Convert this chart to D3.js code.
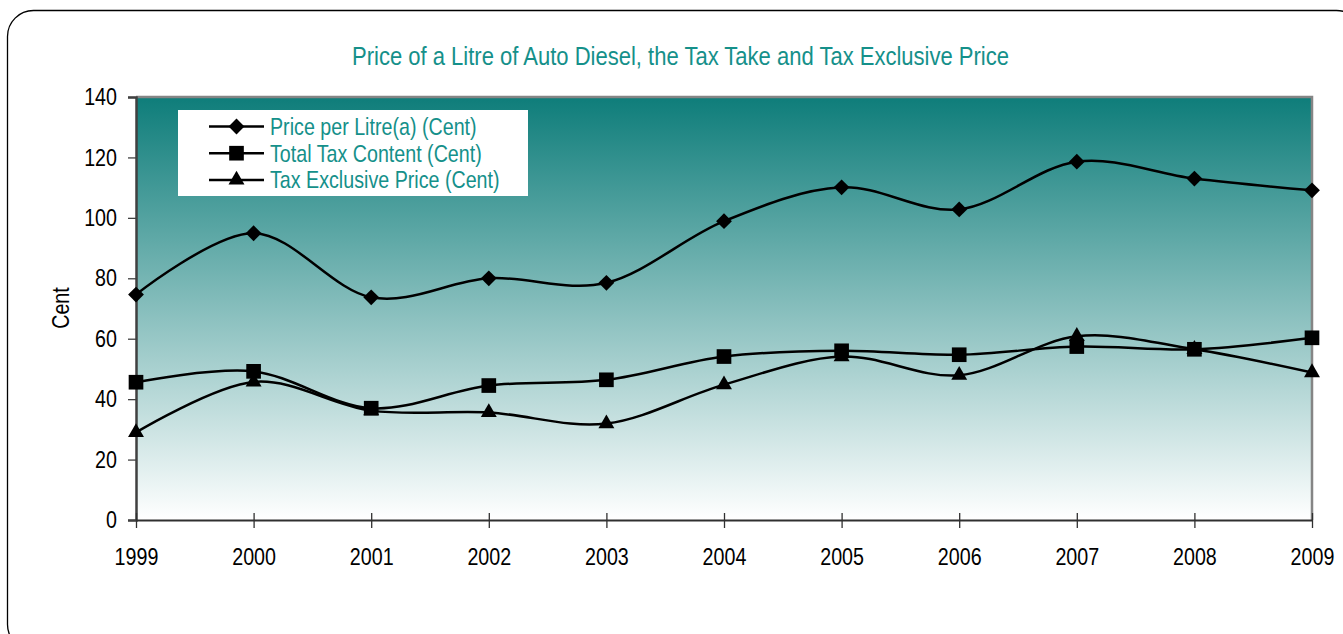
<!DOCTYPE html>
<html>
<head>
<meta charset="utf-8">
<script src="https://cdn.jsdelivr.net/npm/d3@7"></script>
<style>
  body { margin: 0; background: #fff; }
  text { font-family: "Liberation Sans", Arial, sans-serif; }
</style>
</head>
<body>
<div id="chart"></div>
<script>
// data
var years = ["1999", "2000", "2001", "2002", "2003", "2004", "2005", "2006", "2007", "2008", "2009"];
var pricePerLitre = [74.6, 94.9, 73.7, 80.0, 78.5, 98.9, 110.1, 102.8, 118.6, 113.0, 109.1];
var totalTax = [45.6, 49.2, 37.0, 44.5, 46.4, 54.1, 56.0, 54.7, 57.4, 56.5, 60.3];
var taxExclusive = [29.0, 45.7, 36.2, 35.6, 31.9, 44.8, 54.1, 47.9, 60.8, 56.5, 48.8];
var yTicks = [0, 20, 40, 60, 80, 100, 120, 140];

var seriesNames = ["Price per Litre(a) (Cent)", "Total Tax Content (Cent)", "Tax Exclusive Price (Cent)"];
var seriesValues = [pricePerLitre, totalTax, taxExclusive];

var W = 1343, H = 634;
var margin = {top: 97, right: 31, bottom: 114, left: 136},
    width = W - margin.left - margin.right,
    height = H - margin.top - margin.bottom;
var narrow = 0.82;   // squeeze Liberation Sans to look like Arial Narrow
var teal = "#15908a";

// marker shapes: diamond, square, triangle
function marker(k) {
  if (k === 0) return d3.symbol().type(d3.symbolSquare).size(125)();
  if (k === 1) return d3.symbol().type(d3.symbolSquare).size(215)();
  return d3.symbol().type(d3.symbolTriangle).size(110)();
}
function markerRot(k) { return k === 0 ? " rotate(45)" : ""; }

var svg = d3.select("#chart")
  .append("svg")
    .attr("width", W)
    .attr("height", H);

// outer rounded frame
svg.append("rect")
  .attr("x", 7.5).attr("y", 10.5)
  .attr("width", 1355).attr("height", 640)
  .attr("rx", 26).attr("ry", 26)
  .style("fill", "none")
  .style("stroke", "#000")
  .style("stroke-width", 1.3);

// title
svg.append("text")
  .attr("x", 352)
  .attr("y", 65)
  .attr("textLength", 657)
  .attr("lengthAdjust", "spacingAndGlyphs")
  .style("font-size", "25px")
  .style("fill", teal)
  .text("Price of a Litre of Auto Diesel, the Tax Take and Tax Exclusive Price");

var grad = svg.append("defs").append("linearGradient")
  .attr("id", "bg")
  .attr("x1", 0).attr("y1", 0).attr("x2", 0).attr("y2", 1);
grad.append("stop").attr("offset", "0%").attr("stop-color", "#0e7d7a");
grad.append("stop").attr("offset", "100%").attr("stop-color", "#ffffff");

var g = svg.append("g")
  .attr("transform", "translate(" + margin.left + "," + margin.top + ")");

var x = d3.scalePoint()
  .domain(years)
  .range([0, width]);

var y = d3.scaleLinear()
  .domain([0, 140])
  .range([height, 0]);

// plot area
g.append("rect")
  .attr("width", width)
  .attr("height", height)
  .style("fill", "url(#bg)");
g.append("path")
  .attr("d", "M0,0H" + width + "V" + height)
  .style("fill", "none")
  .style("stroke", "#858585")
  .style("stroke-width", 2.5);

// Y axis
var yAxis = g.append("g")
  .call(d3.axisLeft(y).tickValues(yTicks).tickSize(8).tickFormat(d3.format("d")));
yAxis.select(".domain").style("stroke", "#404040").style("stroke-width", 2.5);
yAxis.selectAll("line").style("stroke", "#404040").style("stroke-width", 1.3);
yAxis.selectAll("text")
  .attr("x", -19 / narrow)
  .attr("transform", "scale(" + narrow + ",1)")
  .style("font-size", "24px")
  .style("fill", "#000");

svg.append("text")
  .attr("transform", "translate(69,308) rotate(-90) scale(" + narrow + ",1)")
  .attr("text-anchor", "middle")
  .style("font-size", "24px")
  .text("Cent");

// X axis
var xAxis = g.append("g")
  .attr("transform", "translate(0," + height + ")")
  .call(d3.axisBottom(x).tickSize(8).tickSizeOuter(0).tickPadding(20));
xAxis.select(".domain").style("stroke", "#303030").style("stroke-width", 2);
xAxis.selectAll(".tick line").attr("y1", -7).style("stroke", "#303030").style("stroke-width", 1.3);
xAxis.selectAll("text")
  .attr("transform", "scale(" + narrow + ",1)")
  .style("font-size", "24px")
  .style("fill", "#000");

// lines
var line = d3.line()
  .x(function (d, i) { return x(years[i]); })
  .y(function (d) { return y(d); })
  .curve(d3.curveCatmullRom.alpha(0));

seriesValues.forEach(function (vals) {
  g.append("path")
    .datum(vals)
    .attr("d", line)
    .style("fill", "none")
    .style("stroke", "#000")
    .style("stroke-width", 2.5);
});

seriesValues.forEach(function (vals, k) {
  g.append("g")
    .selectAll("path")
    .data(vals)
    .enter()
    .append("path")
      .attr("d", marker(k))
      .attr("transform", function (d, i) {
        return "translate(" + x(years[i]) + "," + y(d) + ")" + markerRot(k);
      })
      .style("fill", "#000");
});

// legend
var legend = svg.append("g").attr("transform", "translate(178,110)");
legend.append("rect")
  .attr("width", 350)
  .attr("height", 86)
  .style("fill", "#fff");

seriesNames.forEach(function (name, k) {
  var ly = 16.5 + k * 26.7;
  legend.append("line")
    .attr("x1", 31).attr("x2", 86)
    .attr("y1", ly).attr("y2", ly)
    .style("stroke", "#000")
    .style("stroke-width", 2.5);
  legend.append("path")
    .attr("d", marker(k))
    .attr("transform", "translate(58.5," + ly + ")" + markerRot(k))
    .style("fill", "#000");
  legend.append("text")
    .attr("transform", "translate(92," + (ly + 8.5) + ") scale(" + narrow + ",1)")
    .style("font-size", "24px")
    .style("fill", teal)
    .text(name);
});
</script>
</body>
</html>
